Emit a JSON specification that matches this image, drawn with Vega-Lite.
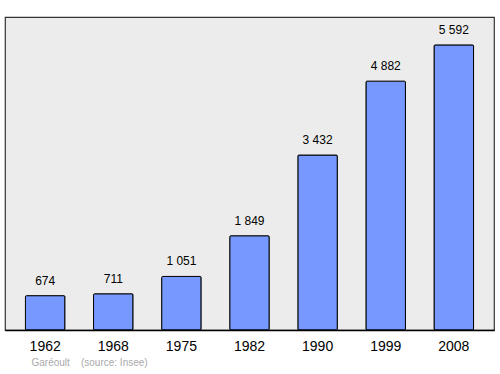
{
  "$schema": "https://vega.github.io/schema/vega-lite/v6.json",
  "width": 489,
  "height": 313,
  "autosize": {"type": "none"},
  "padding": {"left": 5, "top": 17, "right": 6, "bottom": 44},
  "background": "white",
  "config": {
    "view": {"fill": "#ececec", "stroke": "#333333", "strokeWidth": 1.2},
    "font": "Liberation Sans",
    "locale": {"number": {"decimal": ",", "thousands": " ", "grouping": [3], "currency": ["", " €"]}}
  },
  "data": {
    "values": [
      {"year": "1962", "pop": 674},
      {"year": "1968", "pop": 711},
      {"year": "1975", "pop": 1051},
      {"year": "1982", "pop": 1849},
      {"year": "1990", "pop": 3432},
      {"year": "1999", "pop": 4882},
      {"year": "2008", "pop": 5592}
    ]
  },
  "encoding": {
    "x": {
      "field": "year", "type": "nominal", "sort": null,
      "scale": {"paddingInner": 0.42, "paddingOuter": 0.3},
      "axis": {
        "labelAngle": 0, "labelFontSize": 14, "labelColor": "#000000", "labelPadding": 9,
        "ticks": false, "domain": true, "domainColor": "#000000", "domainWidth": 1.5,
        "title": "Garéoult\u00a0\u00a0\u00a0\u00a0(source: Insee)", "titleFontSize": 10, "titleFontWeight": "normal",
        "titleColor": "#aaaaaa", "titleAnchor": "start", "titleAlign": "left", "titleX": 26, "titlePadding": 4
      }
    },
    "y": {
      "field": "pop", "type": "quantitative",
      "scale": {"domain": [0, 6140], "nice": false},
      "axis": null
    }
  },
  "layer": [
    {"mark": {"type": "bar", "color": "#7799ff", "stroke": "#000000", "strokeWidth": 1, "cornerRadius": 1}},
    {"mark": {"type": "text", "baseline": "bottom", "dy": -8, "fontSize": 12, "color": "#000000"},
     "encoding": {"text": {"field": "pop", "type": "quantitative", "format": ",d"}}}
  ]
}
